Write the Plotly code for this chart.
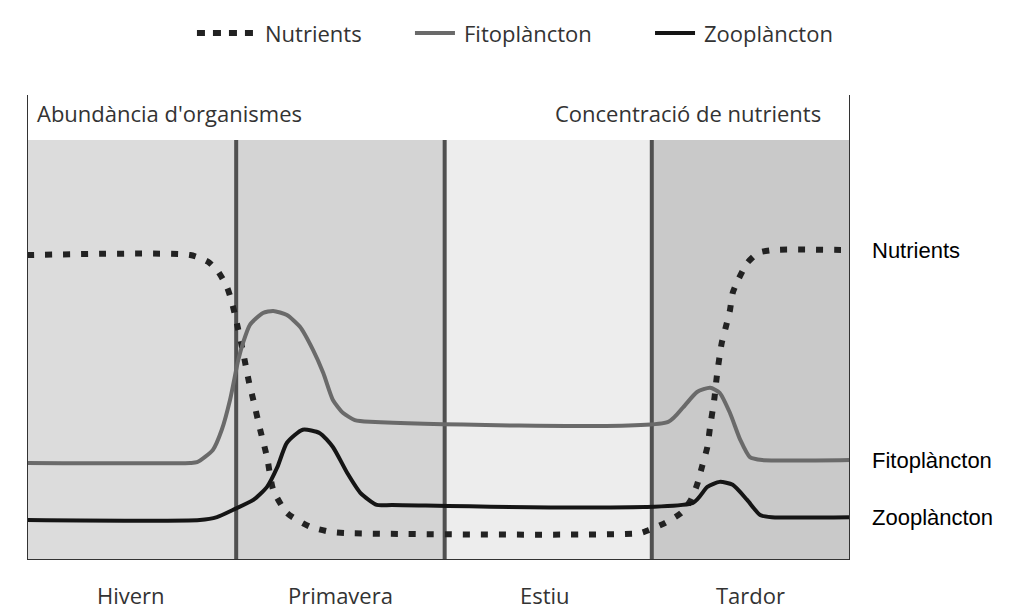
import plotly.graph_objects as go

# Month-like x positions (0 = start of winter, 12 = end of autumn), y = relative level (0-100)
nut_x = [0, 2.38, 2.64, 2.79, 2.92, 2.99, 3.05, 3.15, 3.24, 3.30, 3.40, 3.50, 3.59, 3.79, 4.13, 4.42, 4.64,
         8.94, 9.06, 9.30, 9.54, 9.68, 9.77, 9.84, 9.92, 9.96, 10.02, 10.06, 10.13, 10.19, 10.25, 10.29,
         10.37, 10.50, 10.66, 10.88, 12]
nut_y = [72.6, 72.6, 71.0, 68.6, 64.8, 61.2, 57.1, 49.5, 42.1, 38.1, 31.0, 24.5, 16.7, 11.2, 7.9, 6.7, 6.4,
         6.4, 7.1, 8.8, 11.2, 14.3, 17.9, 22.1, 26.9, 31.7, 38.1, 44.0, 51.7, 55.5, 59.5, 63.6,
         66.7, 70.7, 73.1, 73.8, 73.8]

fito_x = [0, 2.38, 2.48, 2.71, 2.84, 2.96, 3.08, 3.15, 3.25, 3.44, 3.59, 3.79, 3.98, 4.17, 4.32, 4.46, 4.61,
          4.78, 5.00, 9.35, 9.57, 9.77, 9.96, 10.10, 10.25, 10.40, 10.54, 10.72, 12]
fito_y = [23.1, 23.1, 23.3, 26.2, 31.0, 38.1, 47.6, 51.7, 56.0, 58.8, 59.3, 58.3, 55.5, 50.0, 44.5, 38.1, 35.0,
          33.3, 32.9, 32.9, 36.4, 40.0, 41.0, 39.8, 35.0, 28.6, 24.5, 23.8, 23.8]

zoo_x = [0, 2.52, 2.77, 3.00, 3.30, 3.50, 3.65, 3.79, 4.02, 4.27, 4.46, 4.67, 4.86, 5.10, 5.32,
         9.71, 9.92, 10.10, 10.29, 10.50, 10.69, 10.86, 12]
zoo_y = [9.5, 9.5, 10.2, 11.9, 14.3, 17.4, 22.1, 27.9, 31.0, 30.2, 26.9, 20.7, 16.0, 13.1, 13.1,
         13.6, 17.4, 18.6, 17.9, 14.3, 10.7, 10.2, 10.2]

seasons = ["Hivern", "Primavera", "Estiu", "Tardor"]
season_start = [0, 3.05, 6.09, 9.11]
season_end = [3.05, 6.09, 9.11, 12]
season_fill = ["#dcdcdc", "#d4d4d4", "#ededed", "#c9c9c9"]
season_label_x = [1.52, 4.57, 7.55, 10.55]

series_names = ["Nutrients", "Fitoplàncton", "Zooplàncton"]
series_colors = ["#222222", "#6a6a6a", "#151515"]
series_dash = ["7px,11px", "solid", "solid"]
series_width = [6, 4, 4]
end_label_y = [73.8, 23.8, 10.2]

# legend key placement (paper fractions of the plot area)
legend_sym_x0 = [0.2065, 0.4714, 0.7631]
legend_sym_x1 = [0.2795, 0.5200, 0.8117]
legend_txt_x = [0.2868, 0.5286, 0.8202]
legend_dash = ["8px,8px", "solid", "solid"]
legend_y = 1.1333

TXT = dict(family="Open Sans", size=22, color="#333333")

fig = go.Figure()
for xs, ys, name, c, d, w in zip([nut_x, fito_x, zoo_x], [nut_y, fito_y, zoo_y], series_names,
                                  series_colors, series_dash, series_width):
    fig.add_trace(go.Scatter(x=xs, y=ys, mode="lines", name=name, showlegend=False,
                             line=dict(color=c, width=w, dash=d, shape="spline", smoothing=0.6)))

shapes = []
for s, e, c in zip(season_start, season_end, season_fill):
    shapes.append(dict(type="rect", xref="x", yref="y", x0=s, x1=e, y0=0, y1=100,
                       fillcolor=c, line=dict(width=0), layer="below"))
for s in season_start[1:]:
    shapes.append(dict(type="line", xref="x", yref="y", x0=s, x1=s, y0=0, y1=100,
                       line=dict(color="#505050", width=4), layer="below"))
# frame: left, right, bottom
shapes.append(dict(type="line", xref="x", yref="paper", x0=0, x1=0, y0=0, y1=1,
                   line=dict(color="#333333", width=2)))
shapes.append(dict(type="line", xref="x", yref="paper", x0=12, x1=12, y0=0, y1=1,
                   line=dict(color="#333333", width=2)))
shapes.append(dict(type="line", xref="x", yref="y", x0=0, x1=12, y0=0, y1=0,
                   line=dict(color="#333333", width=2)))
# legend keys
for x0, x1, c, d, w in zip(legend_sym_x0, legend_sym_x1, series_colors, legend_dash, series_width):
    shapes.append(dict(type="line", xref="paper", yref="paper", x0=x0, x1=x1, y0=legend_y, y1=legend_y,
                       line=dict(color=c, width=w, dash=d)))

annotations = []
for name, x in zip(seasons, season_label_x):
    annotations.append(dict(text=name, x=x, y=-0.075, xref="x", yref="paper", showarrow=False,
                            yanchor="middle", font=TXT))
annotations.append(dict(text="Abundància d'organismes", x=0.12, y=106.4, xref="x", yref="y",
                        xanchor="left", showarrow=False, font=TXT))
annotations.append(dict(text="Concentració de nutrients", x=11.6, y=106.4, xref="x", yref="y",
                        xanchor="right", showarrow=False, font=TXT))
for name, x in zip(series_names, legend_txt_x):
    annotations.append(dict(text=name, x=x, y=legend_y, xref="paper", yref="paper", xanchor="left",
                            yanchor="middle", showarrow=False, font=TXT))
for name, y in zip(series_names, end_label_y):
    annotations.append(dict(text=name, x=12, y=y, xref="x", yref="y", xanchor="left", xshift=20,
                            showarrow=False,
                            font=dict(family="Liberation Sans, Arial", size=22, color="#000000")))

# page body has an 8px default margin; the figure is sized to fit the 1016x611 window
fig.update_layout(
    width=1008, height=603,
    margin=dict(l=19, r=166, t=87, b=51, autoexpand=False),
    paper_bgcolor="white", plot_bgcolor="white",
    xaxis=dict(range=[0, 12], visible=False, fixedrange=True),
    yaxis=dict(range=[0, 110.7], visible=False, fixedrange=True),
    shapes=shapes, annotations=annotations,
    showlegend=False,
)

fig.write_html("out.html")
